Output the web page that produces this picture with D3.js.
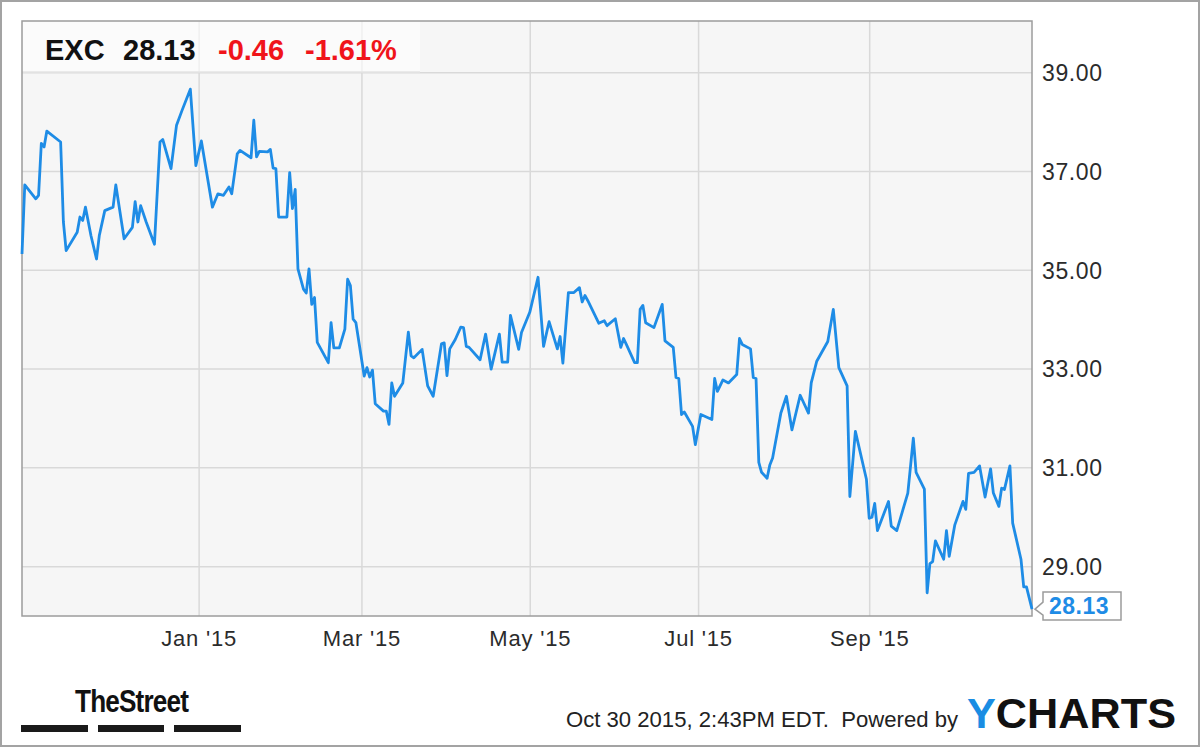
<!DOCTYPE html>
<html>
<head>
<meta charset="utf-8">
<script src="https://cdn.jsdelivr.net/npm/d3@7"></script>
<style>
  body { margin: 0; background: #fff; }
  svg text { font-family: "Liberation Sans", Arial, sans-serif; }
</style>
</head>
<body>
<div id="chart"></div>
<script>
// EXC daily close
var priceDates = [
  "2014-10-29","2014-10-30","2014-11-03","2014-11-04","2014-11-05","2014-11-06","2014-11-07","2014-11-12",
  "2014-11-13","2014-11-14","2014-11-18","2014-11-19","2014-11-20","2014-11-21","2014-11-23","2014-11-25",
  "2014-11-26","2014-11-28","2014-12-01","2014-12-02","2014-12-05","2014-12-08","2014-12-09","2014-12-10",
  "2014-12-11","2014-12-13","2014-12-16","2014-12-18","2014-12-19","2014-12-22","2014-12-24","2014-12-26",
  "2014-12-29","2014-12-31","2015-01-02","2015-01-06","2015-01-08","2015-01-10","2015-01-12","2015-01-13",
  "2015-01-15","2015-01-16","2015-01-20","2015-01-21","2015-01-22","2015-01-23","2015-01-26","2015-01-27",
  "2015-01-28","2015-01-29","2015-01-30","2015-02-02","2015-02-03","2015-02-04","2015-02-05","2015-02-06",
  "2015-02-08","2015-02-09","2015-02-10","2015-02-11","2015-02-12","2015-02-13","2015-02-17","2015-02-18",
  "2015-02-19","2015-02-21","2015-02-23","2015-02-24","2015-02-25","2015-02-26","2015-02-27","2015-03-02",
  "2015-03-03","2015-03-04","2015-03-05","2015-03-06","2015-03-09","2015-03-10","2015-03-11","2015-03-12",
  "2015-03-13","2015-03-16","2015-03-18","2015-03-19","2015-03-20","2015-03-23","2015-03-25","2015-03-27",
  "2015-03-30","2015-03-31","2015-04-01","2015-04-02","2015-04-04","2015-04-06","2015-04-07","2015-04-08",
  "2015-04-09","2015-04-13","2015-04-15","2015-04-17","2015-04-20","2015-04-21","2015-04-23","2015-04-24",
  "2015-04-27","2015-04-28","2015-05-01","2015-05-04","2015-05-06","2015-05-08","2015-05-11","2015-05-12",
  "2015-05-13","2015-05-15","2015-05-17","2015-05-19","2015-05-20","2015-05-21","2015-05-22","2015-05-26",
  "2015-05-28","2015-05-29","2015-06-01","2015-06-03","2015-06-04","2015-06-05","2015-06-08","2015-06-09",
  "2015-06-10","2015-06-11","2015-06-12","2015-06-15","2015-06-18","2015-06-19","2015-06-22","2015-06-23",
  "2015-06-24","2015-06-25","2015-06-26","2015-06-29","2015-06-30","2015-07-02","2015-07-06","2015-07-07",
  "2015-07-08","2015-07-10","2015-07-12","2015-07-15","2015-07-16","2015-07-17","2015-07-20","2015-07-21",
  "2015-07-22","2015-07-23","2015-07-24","2015-07-26","2015-07-27","2015-07-28","2015-07-31","2015-08-02",
  "2015-08-04","2015-08-07","2015-08-10","2015-08-11","2015-08-13","2015-08-17","2015-08-19","2015-08-21",
  "2015-08-24","2015-08-25","2015-08-27","2015-08-31","2015-09-01","2015-09-02","2015-09-03","2015-09-04",
  "2015-09-08","2015-09-09","2015-09-11","2015-09-13","2015-09-15","2015-09-17","2015-09-18","2015-09-21",
  "2015-09-22","2015-09-23","2015-09-24","2015-09-25","2015-09-28","2015-09-29","2015-09-30","2015-10-02",
  "2015-10-05","2015-10-06","2015-10-07","2015-10-09","2015-10-11","2015-10-13","2015-10-15","2015-10-16",
  "2015-10-18","2015-10-19","2015-10-20","2015-10-22","2015-10-23","2015-10-26","2015-10-27","2015-10-28",
  "2015-10-30"
];
var priceValues = [
  35.32,36.72,36.44,36.51,37.56,37.49,37.81,37.59,
  35.97,35.39,35.76,36.07,36.00,36.27,35.69,35.22,
  35.69,36.20,36.27,36.72,35.63,35.86,36.38,35.97,
  36.30,35.97,35.52,37.59,37.64,37.05,37.93,38.23,
  38.66,37.11,37.61,36.27,36.54,36.51,36.68,36.54,
  37.35,37.42,37.27,38.03,37.29,37.40,37.39,37.44,
  37.06,37.05,36.07,36.07,36.97,36.24,36.63,35.02,
  34.61,34.53,35.02,34.30,34.44,33.53,33.12,33.93,
  33.42,33.42,33.80,34.81,34.68,34.00,33.93,32.85,
  33.02,32.83,32.97,32.29,32.14,32.14,31.87,32.71,
  32.44,32.71,33.74,33.26,33.22,33.39,32.65,32.44,
  33.50,33.52,32.86,33.40,33.59,33.84,33.83,33.45,
  33.43,33.18,33.70,32.99,33.70,33.13,33.13,34.08,
  33.39,33.73,34.14,34.85,33.45,33.95,33.40,33.65,
  33.11,34.54,34.54,34.64,34.35,34.48,34.38,33.92,
  33.97,33.87,34.01,33.43,33.61,33.49,33.12,33.12,
  34.20,34.28,33.93,33.83,34.30,33.56,33.43,32.82,
  32.80,32.07,32.12,31.83,31.46,32.07,31.97,32.80,
  32.54,32.77,32.71,32.88,33.61,33.49,33.40,32.82,
  32.80,31.10,30.90,30.78,31.05,31.19,32.10,32.44,
  31.76,32.46,32.10,32.71,33.15,33.55,34.20,33.02,
  32.65,30.41,31.73,30.76,29.97,29.99,30.27,29.72,
  30.31,29.81,29.72,30.10,30.48,31.59,30.90,30.56,
  28.46,29.05,29.09,29.51,29.14,29.72,29.20,29.83,
  30.31,30.15,30.88,30.90,31.03,30.40,30.97,30.48,
  30.21,30.58,30.55,31.03,29.87,29.14,28.58,28.58,
  28.13
];
var priceTicks = [29, 31, 33, 35, 37, 39];
var monthTicks = ["2015-01-01", "2015-03-01", "2015-05-01", "2015-07-01", "2015-09-01"];
var dateRange = ["2014-10-29", "2015-10-30"];

var ticker = "EXC", lastPrice = "28.13", change = "-0.46", changePct = "-1.61%";
var stampText = "Oct 30 2015, 2:43PM EDT.  Powered by";

var width = 1200, height = 747;
var plot = { left: 22, right: 1032, top: 21, bottom: 616 };
var plotW = plot.right - plot.left, plotH = plot.bottom - plot.top;

var parseDate = d3.timeParse("%Y-%m-%d");
var data = priceDates.map(function(d, i) { return { date: parseDate(d), value: priceValues[i] }; });

var svg = d3.select("#chart").append("svg")
  .attr("width", width)
  .attr("height", height);

// outer frame
svg.append("rect")
  .attr("x", 1).attr("y", 1)
  .attr("width", width - 2).attr("height", height - 2)
  .attr("fill", "#fff")
  .attr("stroke", "#a3a3a3")
  .attr("stroke-width", 2);

var x = d3.scaleTime()
  .domain(dateRange.map(parseDate))
  .range([plot.left, plot.right]);

var y = d3.scaleLinear()
  .domain([27.99, 40.04])
  .range([plot.bottom, plot.top]);

// plot background
svg.append("rect")
  .attr("x", plot.left).attr("y", plot.top)
  .attr("width", plotW).attr("height", plotH)
  .attr("fill", "#f6f6f6");

// y axis + horizontal grid
var yAxis = svg.append("g")
  .attr("transform", "translate(" + plot.right + ",0)")
  .call(d3.axisRight(y).tickValues(priceTicks).tickSize(-plotW).tickPadding(10).tickFormat(d3.format(".2f")));
yAxis.select(".domain").remove();
yAxis.selectAll("line").attr("stroke", "#d9d9d9").attr("stroke-width", 1.5);
yAxis.selectAll("text")
  .attr("fill", "#2b2b2b")
  .style("font-size", "23px")
  .style("letter-spacing", "0.6px")
  .attr("dy", "0.36em");

// x axis + vertical grid
var xAxis = svg.append("g")
  .attr("transform", "translate(0," + plot.bottom + ")")
  .call(d3.axisBottom(x).tickValues(monthTicks.map(parseDate)).tickSize(-plotH).tickPadding(14)
    .tickFormat(d3.timeFormat("%b '%y")));
xAxis.select(".domain").remove();
xAxis.selectAll("line").attr("stroke", "#d9d9d9").attr("stroke-width", 1.5);
xAxis.selectAll("text")
  .attr("fill", "#2b2b2b")
  .style("font-size", "22px")
  .style("letter-spacing", "0.8px");

// header box
svg.append("rect")
  .attr("x", plot.left).attr("y", plot.top)
  .attr("width", 398).attr("height", 51)
  .attr("fill", "rgba(255,255,255,0.6)");
svg.append("line")
  .attr("x1", plot.left).attr("x2", 420)
  .attr("y1", 72).attr("y2", 72)
  .attr("stroke", "#e4e4e4").attr("stroke-width", 1.5);

// plot border
svg.append("rect")
  .attr("x", plot.left).attr("y", plot.top)
  .attr("width", plotW).attr("height", plotH)
  .attr("fill", "none")
  .attr("stroke", "#9c9c9c")
  .attr("stroke-width", 1.5);

// price line
var line = d3.line()
  .x(function(d) { return x(d.date); })
  .y(function(d) { return y(d.value); });

svg.append("path")
  .datum(data)
  .attr("d", line)
  .attr("fill", "none")
  .attr("stroke", "#1e8ce6")
  .attr("stroke-width", 2.8)
  .attr("stroke-linejoin", "round");

// last value flag
var last = data[data.length - 1];
var lx = x(last.date) + 3, ly = y(last.value);
svg.append("path")
  .attr("d", "M" + lx + "," + ly +
    " L" + (lx + 8) + "," + (ly - 7) +
    " L" + (lx + 8) + "," + (ly - 17) +
    " L" + (lx + 86) + "," + (ly - 17) +
    " L" + (lx + 86) + "," + (ly + 11) +
    " L" + (lx + 8) + "," + (ly + 11) +
    " L" + (lx + 8) + "," + (ly + 6) + " Z")
  .attr("fill", "#fff")
  .attr("stroke", "#9c9c9c")
  .attr("stroke-width", 1.5);
svg.append("text")
  .attr("x", lx + 14).attr("y", ly + 5)
  .attr("fill", "#1e8ce6")
  .style("font-size", "23px")
  .style("font-weight", "bold")
  .style("letter-spacing", "0.5px")
  .text(d3.format(".2f")(last.value));

// header text
var header = svg.append("g").style("font-weight", "bold").style("font-size", "29px");
header.append("text").attr("x", 45).attr("y", 60).attr("fill", "#111").text(ticker);
header.append("text").attr("x", 123).attr("y", 60).attr("fill", "#111").text(lastPrice);
header.append("text").attr("x", 218).attr("y", 60).attr("fill", "#f0141a").text(change);
header.append("text").attr("x", 305).attr("y", 60).attr("fill", "#f0141a").text(changePct);

// TheStreet logo
svg.append("text")
  .attr("x", 75).attr("y", 712)
  .attr("textLength", 113).attr("lengthAdjust", "spacingAndGlyphs")
  .attr("fill", "#111")
  .style("font-size", "31px")
  .style("font-weight", "bold")
  .style("letter-spacing", "-1px")
  .text("TheStreet");
[[21, 88], [98, 164], [174, 241]].forEach(function(b) {
  svg.append("rect")
    .attr("x", b[0]).attr("y", 725)
    .attr("width", b[1] - b[0]).attr("height", 7)
    .attr("fill", "#1a1a1a");
});

// footer
svg.append("text")
  .attr("x", 566).attr("y", 727)
  .attr("textLength", 392).attr("lengthAdjust", "spacingAndGlyphs")
  .attr("fill", "#222")
  .style("font-size", "22px")
  .style("white-space", "pre")
  .text(stampText);

var ych = svg.append("text")
  .attr("x", 967).attr("y", 728)
  .attr("textLength", 209).attr("lengthAdjust", "spacingAndGlyphs")
  .style("font-size", "42px")
  .style("font-weight", "bold");
ych.append("tspan").attr("fill", "#1a8de3").text("Y");
ych.append("tspan").attr("fill", "#111").text("CHARTS");
</script>
</body>
</html>
